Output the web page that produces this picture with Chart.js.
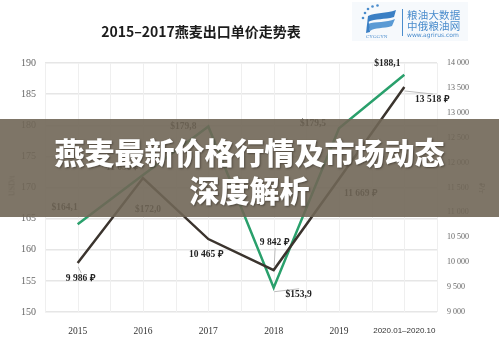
<!DOCTYPE html>
<html>
<head>
<meta charset="utf-8">
<script src="https://cdn.jsdelivr.net/npm/chart.js@4/dist/chart.umd.min.js"></script>
<style>
  html, body { margin: 0; padding: 0; background: #fff; }
  #wrap { position: relative; width: 499px; height: 339px; overflow: hidden; background: #fff; }
  #chart { position: absolute; left: 0; top: 0; }
  .title { position: absolute; left: 0; top: 21px; width: 402px; text-align: center;
           font: bold 14px "Noto Sans CJK SC", sans-serif; color: #1c1c1c; line-height: 20px; }
  .axis-title { position: absolute; font: 8px "Liberation Serif", serif; color: #777; white-space: nowrap; }
  .logo { position: absolute; left: 352px; top: 2px; width: 116px; height: 39px; background: #f6f9fc; }
  .logo .bar { position: absolute; left: 50px; top: 7px; width: 1px; height: 27px; background: #4a8ccc; }
  .logo .t { position: absolute; left: 55px; font: 10.5px "Noto Sans CJK SC", sans-serif; color: #4a8ccc;
             letter-spacing: 0.2px; line-height: 11px; white-space: nowrap; }
  .logo .u { position: absolute; left: 55px; top: 29px; font: 6px "DejaVu Sans", sans-serif; color: #4a8ccc; white-space: nowrap; }
  .banner { position: absolute; left: 0; top: 119px; width: 499px; height: 98px; background: rgba(112, 102, 86, 0.9); }
  .headline { position: absolute; left: 0; width: 499px; text-align: center; color: #fff;
              font: 900 30px "Noto Sans CJK SC", sans-serif; line-height: 30px; white-space: nowrap;
              text-shadow: 1px 1px 2px rgba(40, 35, 28, 0.55); }
</style>
</head>
<body>
<div id="wrap">
  <canvas id="chart" width="499" height="339"></canvas>
  <div class="title">2015–2017燕麦出口单价走势表</div>
  <div class="logo">
    <svg width="48" height="39" viewBox="0 0 48 39" style="position:absolute;left:4px;top:0">
      <circle cx="9" cy="11" r="1.3" fill="#4a8ccc"/>
      <circle cx="12" cy="7" r="1.3" fill="#4a8ccc"/>
      <circle cx="16.5" cy="4.5" r="1.3" fill="#4a8ccc"/>
      <circle cx="21.5" cy="3.5" r="1.3" fill="#4a8ccc"/>
      <circle cx="7" cy="16" r="1.3" fill="#4a8ccc"/>
      <path d="M12 14 C20 10 30 12 40 8 L38 15 C28 18 20 16 12 20 Z" fill="#3a7fc4"/>
      <path d="M12 22 C20 19 30 21 39 17 L36 24 C27 27 19 25 14 29 Z" fill="#5a9ad4"/>
      <path d="M12 14 L14 30 L10 31 Z" fill="#3a7fc4"/>
      <text x="10" y="36" font-family="Liberation Serif" font-size="5" fill="#4a8ccc">CYGGYN</text>
    </svg>
    <div class="bar"></div>
    <div class="t" style="top:7px">粮油大数据</div>
    <div class="t" style="top:18px">中俄粮油网</div>
    <div class="u">www.agrirus.com</div>
  </div>
  <div class="axis-title" style="left:12px;top:186px;transform:translate(-50%,-50%) rotate(-90deg);">USD/t</div>
  <div class="axis-title" style="left:482px;top:188px;transform:translate(-50%,-50%) rotate(90deg);">₽/т</div>
  <div class="banner"></div>
  <div class="headline" style="top:136px">燕麦最新价格行情及市场动态</div>
  <div class="headline" style="top:174px">深度解析</div>
</div>

<script>
// Oat export unit prices: dollars per tonne (left axis) and roubles per tonne (right axis)
const categories = ['2015', '2016', '2017', '2018', '2019', '2020.01–2020.10'];
const usdPerTon  = [164.1, 172.0, 179.8, 153.9, 179.5, 188.1];
const rubPerTon  = [9986, 11690, 10465, 9842, 11669, 13518];
const usdTicks   = [150, 155, 160, 165, 170, 175, 180, 185, 190];
const rubTicks   = [9000, 9500, 10000, 10500, 11000, 11500, 12000, 12500, 13000, 13500, 14000];

// where each value label sits relative to its point (dx, dy)
const usdLabelOffsets = [[-13, -17], [5, 34], [-25, 0], [25, 7], [-26, -5], [-17, -11]];
const rubLabelOffsets = [[3, 16], [-20, -10], [-2, 16], [1, -28], [22, 14], [28, 13]];

const GREEN = '#2aa06c';
const DARK = '#3b342e';

const groupThousands = v => String(v).replace(/\B(?=(\d{3})+(?!\d))/g, ' ');
const fmtUsd = v => '$' + v.toFixed(1).replace('.', ',');
const fmtRub = v => groupThousands(v) + ' ₽';

// faint vertical grid: at each category and halfway between
const verticalGrid = {
  id: 'verticalGrid',
  beforeDatasetsDraw(chart) {
    const { ctx, chartArea, scales } = chart;
    const x = scales.x;
    const step = x.getPixelForValue(1) - x.getPixelForValue(0);
    ctx.save();
    ctx.strokeStyle = '#efefef';
    ctx.lineWidth = 1;
    for (let i = 0; i < categories.length; i++) {
      const c = x.getPixelForValue(i);
      [c - step / 2, c].forEach(px => {
        ctx.beginPath();
        ctx.moveTo(Math.round(px) + 0.5, chartArea.top);
        ctx.lineTo(Math.round(px) + 0.5, chartArea.bottom);
        ctx.stroke();
      });
    }
    const last = x.getPixelForValue(categories.length - 1) + step / 2;
    ctx.beginPath();
    ctx.moveTo(Math.round(last) + 0.5, chartArea.top);
    ctx.lineTo(Math.round(last) + 0.5, chartArea.bottom);
    ctx.stroke();
    ctx.restore();
  }
};

// value labels next to each point
const valueLabels = {
  id: 'valueLabels',
  afterDatasetsDraw(chart) {
    const { ctx } = chart;
    ctx.save();
    ctx.font = 'bold 9.5px "Liberation Serif", serif';
    ctx.fillStyle = '#222';
    ctx.textAlign = 'center';
    ctx.textBaseline = 'middle';
    chart.data.datasets.forEach((ds, di) => {
      const meta = chart.getDatasetMeta(di);
      meta.data.forEach((pt, i) => {
        const [dx, dy] = ds.labelOffsets[i];
        const lx = pt.x + dx, ly = pt.y + dy;
        if (ds.leaders && ds.leaders[i]) {
          ctx.strokeStyle = '#bdbdbd';
          ctx.lineWidth = 1;
          ctx.beginPath();
          ctx.moveTo(lx + 0.5, ly + (dy < 0 ? 6 : -6));
          ctx.lineTo(pt.x + 0.5, pt.y + (dy < 0 ? -4 : 4));
          ctx.stroke();
        }
        ctx.fillText(ds.format(ds.data[i]), lx, ly);
      });
    });
    ctx.restore();
  }
};

new Chart(document.getElementById('chart'), {
  type: 'line',
  data: {
    labels: categories,
    datasets: [
      {
        label: '₽/т',
        data: rubPerTon,
        yAxisID: 'yR',
        borderColor: DARK,
        borderWidth: 2.5,
        pointRadius: 0,
        tension: 0,
        format: fmtRub,
        labelOffsets: rubLabelOffsets,
        leaders: [true, false, false, true, false, true]
      },
      {
        label: 'USD/t',
        data: usdPerTon,
        yAxisID: 'yL',
        borderColor: GREEN,
        borderWidth: 2.5,
        pointRadius: 0,
        tension: 0,
        format: fmtUsd,
        labelOffsets: usdLabelOffsets,
        leaders: [false, false, false, true, false, false]
      }
    ]
  },
  options: {
    responsive: false,
    animation: false,
    devicePixelRatio: 1,
    layout: { padding: { top: 63, left: 0, right: 0, bottom: 0 } },
    plugins: { legend: { display: false }, tooltip: { enabled: false }, title: { display: false } },
    scales: {
      x: {
        offset: true,
        grid: { display: false },
        border: { display: false },
        ticks: {
          padding: 6,
          color: '#333',
          maxRotation: 0,
          autoSkip: false,
          font: ctx => ctx.index === categories.length - 1
            ? { family: '"Liberation Sans Narrow", "Liberation Sans", sans-serif', size: 8 }
            : { family: '"Liberation Serif", serif', size: 9.5 }
        },
        afterFit: s => { s.height = 27; }
      },
      yL: {
        position: 'left',
        min: 150,
        max: 190,
        afterBuildTicks: s => { s.ticks = usdTicks.map(v => ({ value: v })); },
        grid: { color: '#e6e6e6', lineWidth: 1.5, drawTicks: false },
        border: { display: false },
        ticks: { padding: 9, color: '#666', font: { family: '"Liberation Serif", serif', size: 10 } },
        afterFit: s => { s.width = 45; }
      },
      yR: {
        position: 'right',
        min: 9000,
        max: 14000,
        afterBuildTicks: s => { s.ticks = rubTicks.map(v => ({ value: v })); },
        grid: { display: false, drawTicks: false },
        border: { display: false },
        ticks: {
          padding: 10,
          color: '#666',
          font: { family: '"Liberation Serif", serif', size: 8 },
          callback: v => groupThousands(v)
        },
        afterFit: s => { s.width = 62; }
      }
    }
  },
  plugins: [verticalGrid, valueLabels]
});
</script>
</body>
</html>
